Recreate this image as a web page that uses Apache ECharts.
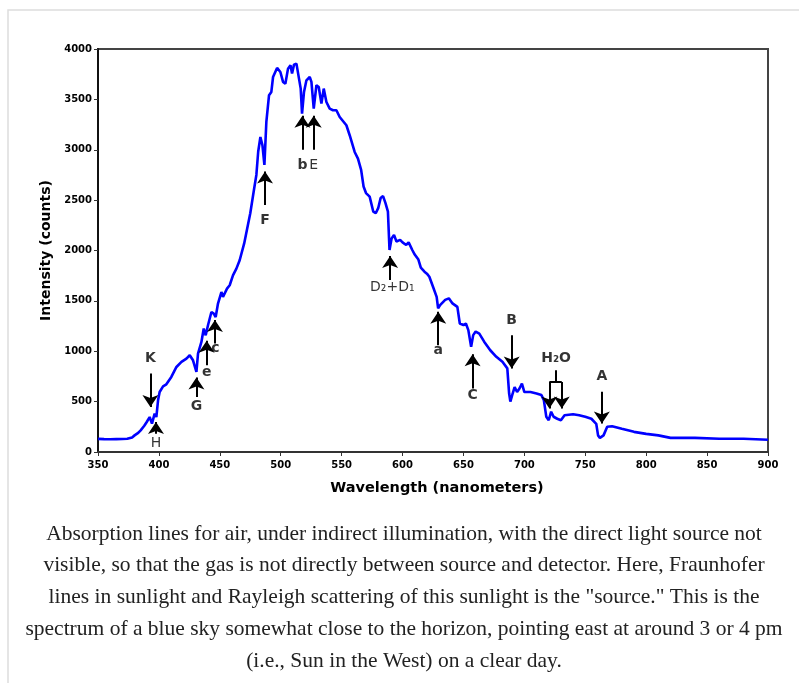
<!DOCTYPE html>
<html>
<head>
<meta charset="utf-8">
<script src="https://cdn.jsdelivr.net/npm/echarts@6/dist/echarts.min.js"></script>
<style>
html,body{margin:0;padding:0;background:#fff;}
#chart{width:799px;height:683px;}
</style>
</head>
<body>
<div id="chart"></div>
<script>
// Spectrum data (wavelength in nm, intensity in counts)
const wavelength = [350,355,360,365,370,374,378,380,383,385,388,390,392.4,394.3,396.5,397.9,399.3,400.6,403.4,406.1,410.2,414.4,418.5,420,422.6,425.3,428,430.8,432.1,434.9,436.8,438.4,440.3,443.1,445,446.6,448.5,451.3,452.6,455.9,458.1,460.8,463.6,466.3,470,475,478,480,481.5,483.3,485,486.6,488.2,490.4,492.3,493.7,497,499.7,501.9,503.8,506,508,509.3,510.9,512.9,515,516.4,517.5,519.1,521.1,523.8,525.2,527.1,529.3,531.2,533.4,535.3,537.5,540.2,542.9,545.7,548.4,553.9,556.6,560.7,563.4,566,568,570,573,576,578,580,582,584,586,588,589.3,591,593,595,598,600,603,605,608,610,613,615,618,620,622,625,628,629.2,631,635,638,641,645,647,650,652,654,656.3,658,660,663,667,672,677,682,686,687.5,688.5,690,692,694,696,698,700,705,710,714,716,718,720,722,724,727,730,733,740,745,750,755,759,760.5,762,765,768,772,780,790,800,810,820,840,860,880,900];
const intensity = [130,128,127,128,129,131,145,165,190,215,260,298,347,282,381,347,513,596,652,672,745,844,894,880,927,960,910,794,977,1092,1225,1158,1258,1390,1374,1340,1473,1588,1539,1622,1655,1754,1820,1903,2070,2370,2600,2750,2980,3127,3044,2850,3276,3541,3574,3722,3812,3772,3673,3656,3805,3838,3756,3845,3855,3706,3607,3359,3574,3689,3722,3673,3408,3640,3623,3458,3607,3474,3408,3392,3392,3325,3243,3144,2978,2912,2800,2635,2570,2535,2385,2370,2420,2520,2540,2470,2385,2005,2120,2155,2090,2105,2080,2055,2080,2005,1960,1910,1830,1790,1770,1740,1640,1540,1425,1460,1510,1525,1475,1440,1275,1260,1275,1210,1045,1160,1195,1175,1095,1010,945,895,830,580,500,565,645,595,630,680,595,595,580,565,515,350,315,400,350,330,315,365,375,365,350,330,280,165,140,165,250,255,230,200,180,165,140,140,132,132,122];

// Axis ticks
const xTicks = [350,400,450,500,550,600,650,700,750,800,850,900];
const yTicks = [0,500,1000,1500,2000,2500,3000,3500,4000];

// Annotation arrows: x position, tail intensity, tip intensity
const arrowX    = [393, 397.6, 430.8, 439.2, 446, 487.1, 517.8, 527.1, 589.8, 629.3, 657.5, 689.6, 720.5, 730.7, 763.6];
const arrowFrom = [779, 182, 547, 862, 1077, 2452, 2999, 2999, 1707, 1060, 630, 1160, 696, 696, 597];
const arrowTo   = [447, 298, 739, 1104, 1309, 2784, 3337, 3337, 1945, 1392, 971, 829, 431, 431, 282];

// H2O bracket segments
const bracketX1 = [726, 720.5];
const bracketY1 = [812, 696];
const bracketX2 = [726, 730.7];
const bracketY2 = [696, 696];

// Annotation labels
const labelText = ['K','H','G','e','c','F','b','E','D\u2082+D\u2081','a','C','B','H\u2082O','A'];
const labelX    = [393, 397.6, 430.8, 439.2, 446.3, 487.1, 517.8, 527.1, 591.6, 629.3, 657.5, 689.6, 726, 763.6];
const labelY    = [928, 89, 457, 795, 1027, 2303, 2850, 2850, 1634, 1011, 563, 1309, 928, 746];
const labelBold = [true,false,true,true,true,true,true,false,false,true,true,true,true,true];

const captionLines = [
  'Absorption lines for air, under indirect illumination, with the direct light source not',
  'visible, so that the gas is not directly between source and detector. Here, Fraunhofer',
  'lines in sunlight and Rayleigh scattering of this sunlight is the "source." This is the',
  'spectrum of a blue sky somewhat close to the horizon, pointing east at around 3 or 4 pm',
  '(i.e., Sun in the West) on a clear day.'
];

const chart = echarts.init(document.getElementById('chart'), null, {renderer:'canvas'});

const lineData = wavelength.map((w,i)=>[w, intensity[i]]);
const arrowData = arrowX.map((x,i)=>[{coord:[x, arrowFrom[i]]},{coord:[x, arrowTo[i]]}]);
const bracketData = bracketX1.map((x,i)=>[{coord:[x, bracketY1[i]]},{coord:[bracketX2[i], bracketY2[i]]}]);
const labelData = labelText.map((t,i)=>({
  value:[labelX[i], labelY[i]], name:t,
  label:{fontWeight: labelBold[i] ? 'bold' : 'normal'}
}));

const tickFont = {fontFamily:'DejaVu Sans', fontSize:10, fontWeight:'bold', color:'#000', formatter:v=>String(v)};

chart.setOption({
  animation:false,
  backgroundColor:'#fff',
  grid:{left:98, right:31, top:49, bottom:231, show:true, borderColor:'#444', borderWidth:2, containLabel:false},
  xAxis:{
    type:'value', min:xTicks[0], max:xTicks[xTicks.length-1], interval:50,
    name:'Wavelength (nanometers)', nameLocation:'middle', nameGap:29,
    nameTextStyle:{fontFamily:'DejaVu Sans', fontSize:14.5, fontWeight:'bold', color:'#000', padding:[0,0,0,8]},
    axisLine:{show:true, onZero:false, lineStyle:{color:'#333', width:2}},
    axisTick:{show:true, length:4, lineStyle:{color:'#333', width:1}},
    axisLabel:{...tickFont, margin:8},
    splitLine:{show:false}
  },
  yAxis:{
    type:'value', min:yTicks[0], max:yTicks[yTicks.length-1], interval:500,
    name:'Intensity (counts)', nameLocation:'middle', nameGap:45, nameRotate:90,
    nameTextStyle:{fontFamily:'DejaVu Sans', fontSize:14, fontWeight:'bold', color:'#000'},
    axisLine:{show:true, onZero:false, lineStyle:{color:'#111', width:2}},
    axisTick:{show:true, length:4, lineStyle:{color:'#333', width:1}},
    axisLabel:{...tickFont, margin:6},
    splitLine:{show:false}
  },
  title:{
    text: captionLines.join('\n'),
    left: 399, top: 513, textAlign:'center',
    textStyle:{fontFamily:'Liberation Serif', fontSize:21.5, fontWeight:'normal', color:'#222', lineHeight:31.8}
  },
  graphic:[{
    type:'rect', silent:true, z:-1,
    shape:{x:8, y:10, width:900, height:800},
    style:{fill:'none', stroke:'#ddd', lineWidth:1.5}
  }],
  series:[
    {
      type:'line', data:lineData, showSymbol:false, symbol:'none',
      lineStyle:{color:'#0000ff', width:2.6}, z:3, silent:true,
      markLine:{
        silent:true, animation:false, symbol:['none','arrow'], symbolSize:12,
        lineStyle:{color:'#000', width:2, type:'solid'}, label:{show:false},
        emphasis:{disabled:true}, data:arrowData
      }
    },
    {
      type:'line', data:[], silent:true,
      markLine:{
        silent:true, animation:false, symbol:['none','none'],
        lineStyle:{color:'#000', width:2, type:'solid'}, label:{show:false},
        emphasis:{disabled:true}, data:bracketData
      }
    },
    {
      type:'scatter', data:labelData, symbolSize:0, silent:true, z:5,
      label:{show:true, position:'inside', formatter:p=>p.name,
        fontFamily:'DejaVu Sans', fontSize:14, color:'#000'}
    }
  ]
});
</script>
</body>
</html>
